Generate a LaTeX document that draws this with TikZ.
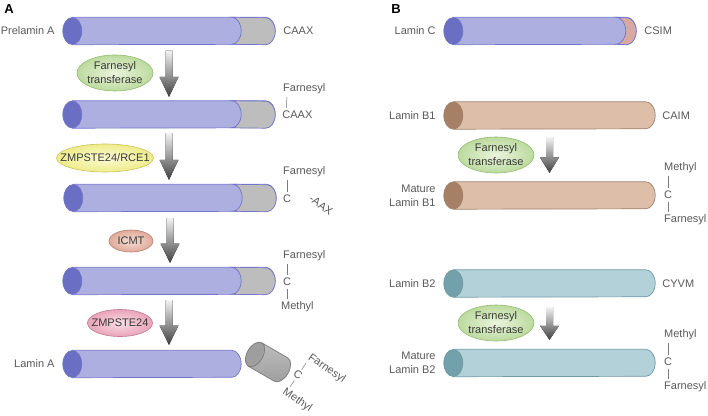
\documentclass[tikz,border=0pt]{standalone}
\usepackage{fontspec}
\setmainfont{Liberation Sans}
\usetikzlibrary{calc,positioning,shapes.geometric}

\definecolor{txt}{HTML}{595959}
\definecolor{enztxt}{HTML}{3A3A3A}
\definecolor{bluebody}{HTML}{ACAFDF}
\definecolor{bluelite}{HTML}{C6C8EE}
\definecolor{bluecap}{HTML}{6B6FC3}
\definecolor{blueedge}{HTML}{7276C8}
\definecolor{brownbody}{HTML}{DDBEA9}
\definecolor{brownlite}{HTML}{EDD8CA}
\definecolor{browncap}{HTML}{A67F67}
\definecolor{brownedge}{HTML}{A08069}
\definecolor{tealbody}{HTML}{B3D1D9}
\definecolor{teallite}{HTML}{D0E4E9}
\definecolor{tealcap}{HTML}{72A1AB}
\definecolor{tealedge}{HTML}{6D9AA4}
\definecolor{graybody}{HTML}{BDBDBD}
\definecolor{graylite}{HTML}{D6D6D6}
\definecolor{graycap}{HTML}{9E9E9E}
\definecolor{grayedge}{HTML}{7A7A7A}
\definecolor{pinkend}{HTML}{D8A9A2}
\definecolor{greenin}{HTML}{EAF4DC}
\definecolor{greenout}{HTML}{BCDA9E}
\definecolor{greenedge}{HTML}{93BC72}
\definecolor{yellowin}{HTML}{FBFBD2}
\definecolor{yellowout}{HTML}{EEEC8C}
\definecolor{yellowedge}{HTML}{C8C45A}
\definecolor{rustin}{HTML}{F6DED4}
\definecolor{rustout}{HTML}{DFAA9A}
\definecolor{rustedge}{HTML}{B97E6D}
\definecolor{rosein}{HTML}{FADDE6}
\definecolor{roseout}{HTML}{E9A4BA}
\definecolor{roseedge}{HTML}{C27A92}

\newcommand{\zw}[1]{\makebox[0pt]{#1}}

% body + left cap of a lamin rod sitting on node #1
\newcommand{\cylbody}[2]{%
  \draw[#2edge, line width=.7pt, top color=#2body, middle color=#2lite, bottom color=#2body]
    ([xshift=9.5pt]#1.north west) -- ([xshift=-9.5pt]#1.north east)
    arc[start angle=90, end angle=-90, x radius=9.5pt, y radius=13.5pt]
    -- ([xshift=9.5pt]#1.south west) -- cycle;
  \draw[#2edge, line width=.7pt, fill=#2cap] ([xshift=9.5pt]#1.west) ellipse [x radius=9.5pt, y radius=13.5pt];
}
% C-terminal end piece
\newcommand{\cyltail}[3]{%
  \draw[blueedge, line width=.7pt, top color=#3, middle color=#3!55!white, bottom color=#3]
    ([xshift=-#2pt]#1.north east) arc[start angle=90, end angle=-90, x radius=9.5pt, y radius=13.5pt]
    -- ([xshift=-9.5pt]#1.south east) arc[start angle=-90, end angle=90, x radius=9.5pt, y radius=13.5pt] -- cycle;
}
% fat grey process arrow
\newcommand{\steparrow}[2]{%
  \fill[top color=black!5, middle color=black!55, bottom color=black!75]
    let \p1=(#1), \p2=(#2), \n1={0.43*(\y1-\y2)} in
    (\x1-3.5pt,\y1) -- (\x1+3.5pt,\y1) -- (\x1+3.5pt,\y2+\n1*1pt) -- (\x1+9.5pt,\y2+\n1*1pt)
    -- (\x1,\y2) -- (\x1-9.5pt,\y2+\n1*1pt) -- (\x1-3.5pt,\y2+\n1*1pt) -- cycle;
}

\tikzset{
  cylnode/.style={minimum width=#1, minimum height=27pt, inner sep=0pt},
  lbl/.style={text=txt, font=\fontsize{11}{14}\selectfont, inner sep=1pt},
  bond/.style={draw=txt!80, line width=.5pt, shorten <=1.5pt, shorten >=1.5pt},
  enz/.style={ellipse, draw=#1edge, line width=.6pt, inner color=#1in, outer color=#1out,
    text=enztxt, font=\fontsize{11}{14}\selectfont, align=center, inner sep=0pt},
  letter/.style={font=\fontsize{13}{15}\selectfont\bfseries, inner sep=0pt}
}

\begin{document}
\begin{tikzpicture}[x=1pt, y=1pt]
  \useasboundingbox (0,0) rectangle (708,415);

  \node[letter] (pA) at (9,406) {A};
  \node[letter] (pB) at (396,406) {B};

  % panel A rods
  \node[cylnode=212pt] (pre) at (169,384) {};
  \node[cylnode=212pt] (far) at (169,300.5) {};
  \node[cylnode=212pt] (cut) at (170,217) {};
  \node[cylnode=212pt] (meth) at (169,134) {};
  \node[cylnode=178pt] (lamA) at (152,51) {};
  \foreach \n in {pre,far,cut,meth} {\cylbody{\n}{blue}\cyltail{\n}{43.5}{graybody}}
  \cylbody{lamA}{blue}

  % cleaved end piece
  \begin{scope}[shift={(268,53)}, rotate=-30]
    \draw[grayedge, line width=.7pt, top color=graybody, middle color=graylite, bottom color=graycap]
      (-15,13.5) -- (15,13.5) arc[start angle=90, end angle=-90, x radius=8, y radius=13.5]
      -- (-15,-13.5) -- cycle;
    \draw[grayedge, line width=.7pt, fill=graycap] (-15,0) ellipse [x radius=8, y radius=13.5];
  \end{scope}

  \node[lbl, left=7pt of pre] {Prelamin A};
  \node[lbl, right=7pt of pre] {CAAX};
  \node[lbl, left=7pt of lamA] {Lamin A};

  \node[lbl, right=6pt of far] (caax2) {CAAX};
  \node[lbl, anchor=west] (fa2) at (282,326) {Farnesyl};
  \draw[bond] ([xshift=5pt]caax2.north west) -- ([xshift=5pt]fa2.south west);

  \node[lbl, anchor=west] (c3) at (282,216) {C};
  \node[lbl, anchor=west] (fa3) at (282,243) {Farnesyl};
  \draw[bond] (c3.north) -- (c3.north |- fa3.south);
  \node[lbl, rotate=-35] (aax) at (321,210) {-AAX};

  \node[lbl, anchor=west] (c4) at (282,133) {C};
  \node[lbl, anchor=west] (fa4) at (282,159) {Farnesyl};
  \node[lbl, anchor=west] (me4) at (280,108) {Methyl};
  \draw[bond] (c4.north) -- (c4.north |- fa4.south);
  \draw[bond] (c4.south) -- (c4.south |- me4.north);

  \begin{scope}[shift={(298,40)}, rotate=-34, transform shape]
    \node[lbl] (c5) at (0,0) {C};
    \node[lbl, anchor=south west] (fa5) at (-2,15) {Farnesyl};
    \node[lbl, anchor=north west] (me5) at (-4,-15) {Methyl};
    \draw[bond] (c5.north) -- ++(0,11);
    \draw[bond] (c5.south) -- ++(0,-11);
  \end{scope}

  % panel A enzymes and steps
  \node[enz=green, minimum width=76pt, minimum height=36pt] (ft1) at (115,342) {\zw{Farnesyl}\\\zw{transferase}};
  \node[enz=yellow, minimum width=97pt, minimum height=28pt] (zr) at (105,257) {\zw{ZMPSTE24/RCE1}};
  \node[enz=rust, minimum width=44pt, minimum height=22pt] (icmt) at (131,174) {\zw{ICMT}};
  \node[enz=rose, minimum width=65pt, minimum height=27pt] (zmp) at (120,92) {\zw{ZMPSTE24}};

  \steparrow{[yshift=-6pt]pre.south}{[yshift=4pt]far.north}
  \steparrow{[yshift=-5pt]far.south}{[yshift=4.5pt]cut.north}
  \steparrow{[yshift=-6.5pt]cut.south}{[yshift=4.5pt]meth.north}
  \steparrow{[yshift=-5.5pt]meth.south}{[yshift=5.5pt]lamA.north}

  % panel B rods
  \node[cylnode=192pt] (lamC) at (540,384) {};
  \node[cylnode=211pt] (lamB1) at (549.5,299.5) {};
  \node[cylnode=211pt] (matB1) at (549.5,219.5) {};
  \node[cylnode=211pt] (lamB2) at (549.5,131.5) {};
  \node[cylnode=211pt] (matB2) at (549.5,52) {};
  \cylbody{lamC}{blue}\cyltail{lamC}{20}{pinkend}
  \cylbody{lamB1}{brown}\cylbody{matB1}{brown}
  \cylbody{lamB2}{teal}\cylbody{matB2}{teal}

  \node[lbl, left=7pt of lamC] {Lamin C};
  \node[lbl, right=7pt of lamC] {CSIM};
  \node[lbl, left=7pt of lamB1] {Lamin B1};
  \node[lbl, right=6pt of lamB1] {CAIM};
  \node[lbl, left=7pt of matB1, align=right] {Mature\\Lamin B1};
  \node[lbl, left=7pt of lamB2] {Lamin B2};
  \node[lbl, right=6pt of lamB2] {CYVM};
  \node[lbl, left=7pt of matB2, align=right] {Mature\\Lamin B2};

  \foreach \m/\y in {b1/220,b2/53} {
    \node[lbl, anchor=west] (c\m) at (663,\y) {C};
    \node[lbl, anchor=west] (me\m) at (663,\y+27) {Methyl};
    \node[lbl, anchor=west] (fa\m) at (663,\y-25) {Farnesyl};
    \draw[bond] (c\m.north) -- (c\m.north |- me\m.south);
    \draw[bond] (c\m.south) -- (c\m.south |- fa\m.north);
  }

  \node[enz=green, minimum width=76pt, minimum height=36pt] (ftb1) at (496,260) {\zw{Farnesyl}\\\zw{transferase}};
  \node[enz=green, minimum width=76pt, minimum height=36pt] (ftb2) at (496,92) {\zw{Farnesyl}\\\zw{transferase}};

  \steparrow{[yshift=-8pt]lamB1.south}{[yshift=9pt]matB1.north}
  \steparrow{[yshift=-10pt]lamB2.south}{[yshift=9.5pt]matB2.north}
\end{tikzpicture}
\end{document}
